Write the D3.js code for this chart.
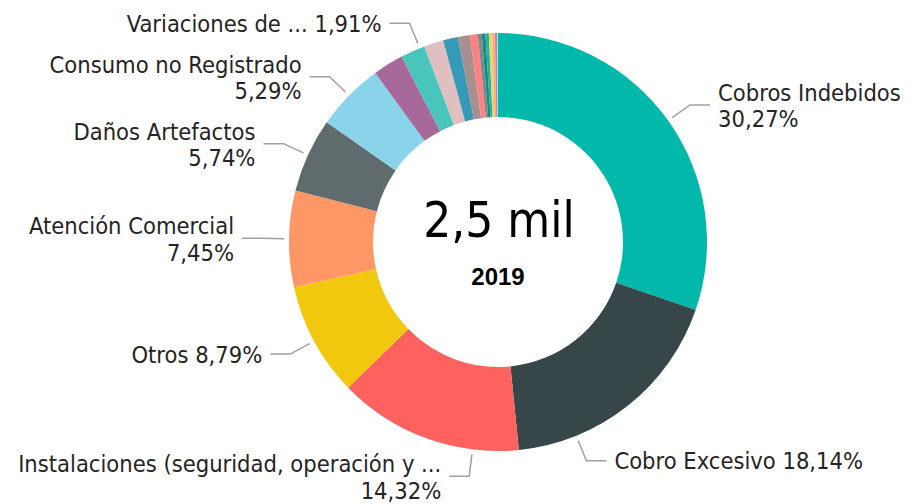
<!DOCTYPE html>
<html lang="es">
<head>
<meta charset="UTF-8">
<title>donut 2019</title>
<script src="https://cdn.jsdelivr.net/npm/d3@7"></script>
<style>
  body { margin: 0; background: #fff; }
  text { font-family: "DejaVu Sans Condensed", "DejaVu Sans", sans-serif; fill: #252423; }
</style>
</head>
<body>
<script>
// datos (porcentajes del total, 2019)
const categories = [
  'Cobros Indebidos', 'Cobro Excesivo', 'Instalaciones (seguridad, operación y ...',
  'Otros', 'Atención Comercial', 'Daños Artefactos', 'Consumo no Registrado',
  'cat08', 'Variaciones de ...', 'cat10', 'cat11', 'cat12', 'cat13', 'cat14',
  'cat15', 'cat16', 'cat17', 'cat18', 'cat19', 'cat20'
];
const shares = [30.27, 18.14, 14.32, 8.79, 7.45, 5.74, 5.29,
  2.36, 1.91, 1.50, 1.15, 0.92, 0.61, 0.31, 0.28, 0.26, 0.26, 0.21, 0.17, 0.06];
const colors = ['#01B8AA', '#374649', '#FD625E', '#F2C80F', '#FE9666', '#5F6B6D', '#8AD4EB',
  '#A66999', '#4AC5BB', '#DFBFBF', '#3599B8', '#A78F8F', '#FB8281', '#7F898A',
  '#168980', '#1AB5A8', '#F4D25A', '#FDAB89', '#B687AC', '#A4DDEE'];
const totalLabel = '2,5 mil';
const yearLabel = '2019';

// etiquetas visibles: cuales van en dos lineas y angulos corridos por Power BI
const labelled = [0, 1, 2, 3, 4, 5, 6, 8];
const twoLine = [0, 2, 4, 5, 6];
const labelAngle = { 1: 158, 2: 187, 8: 338 };

const width = 913, height = 504,
  cx = 498, cy = 242,
  outerR = 209, innerR = 125;

const fmt = d3.formatLocale({ decimal: ',', thousands: '.', grouping: [3], currency: ['', ''] }).format('.2f');

const data = categories.map((c, i) => ({ name: c, value: shares[i], i: i }));

const svg = d3.select('body').append('svg')
  .attr('width', width).attr('height', height);

const g = svg.append('g').attr('transform', `translate(${cx},${cy})`);

const pie = d3.pie().value(d => d.value).sort(null);
const arc = d3.arc().innerRadius(innerR).outerRadius(outerR);
const arcs = pie(data);

g.selectAll('path.slice').data(arcs).enter().append('path')
  .attr('class', 'slice')
  .attr('d', arc)
  .attr('fill', d => colors[d.data.i]);

// lineas guia y etiquetas
const r1 = outerR + 5, r2 = outerR + 27, hLen = 20, gap = 8;
const pt = (deg, r) => [r * Math.sin(deg * Math.PI / 180), -r * Math.cos(deg * Math.PI / 180)];

arcs.filter(d => labelled.includes(d.data.i)).forEach(d => {
  const i = d.data.i;
  let deg = labelAngle[i] !== undefined ? labelAngle[i] : (d.startAngle + d.endAngle) / 2 * 180 / Math.PI;
  const right = (deg % 360) < 180;
  const a = pt(deg, r1), b = pt(deg, r2);
  const c = [b[0] + (right ? hLen : -hLen), b[1]];
  g.append('polyline')
    .attr('points', [a, b, c].map(p => p.join(',')).join(' '))
    .attr('fill', 'none').attr('stroke', '#A0A0A0').attr('stroke-width', 1.5);

  const tx = c[0] + (right ? gap : -gap);
  const t = g.append('text')
    .attr('x', tx)
    .attr('text-anchor', right ? 'start' : 'end')
    .attr('font-size', '23.5px');
  const pct = fmt(d.data.value) + '%';
  if (twoLine.includes(i)) {
    t.attr('y', c[1] - 4);
    t.append('tspan').attr('x', tx).text(d.data.name);
    t.append('tspan').attr('x', tx).attr('dy', 26.5).text(pct);
  } else {
    t.attr('y', c[1] + 8.5).text(d.data.name + ' ' + pct);
  }
});

// textos centrales
g.append('text')
  .attr('x', 1).attr('y', -5)
  .attr('text-anchor', 'middle')
  .attr('font-size', '49px')
  .style('fill', '#000')
  .text(totalLabel);

g.append('text')
  .attr('x', 0).attr('y', 43)
  .attr('text-anchor', 'middle')
  .attr('font-size', '24px')
  .attr('font-weight', 'bold')
  .style('font-family', '"Liberation Sans", Arial, sans-serif')
  .style('fill', '#000')
  .text(yearLabel);
</script>
</body>
</html>
